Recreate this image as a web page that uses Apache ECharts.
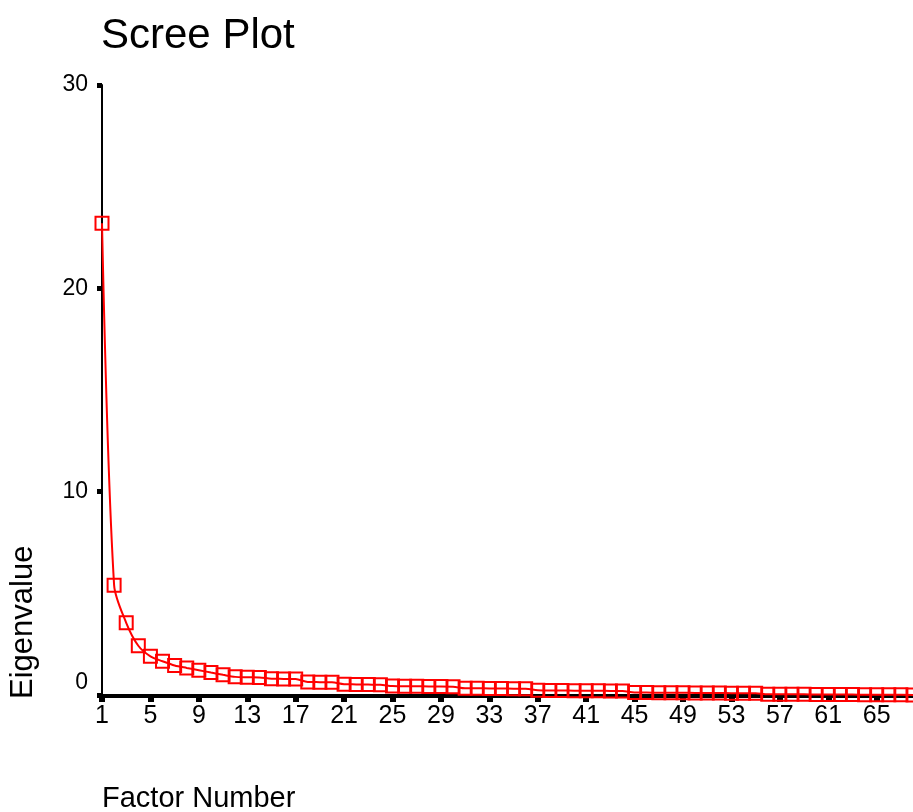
<!DOCTYPE html>
<html>
<head>
<meta charset="utf-8">
<style>
  html, body { margin: 0; padding: 0; background: #fff; }
  #scree { width: 913px; height: 812px; }
</style>
<script src="https://cdn.jsdelivr.net/npm/echarts@6/dist/echarts.min.js"></script>
</head>
<body>
<div id="scree"></div>
<script>
// eigenvalue per factor, factor number = position + 1
var eigenvalues = [
  23.2, 5.4, 3.55, 2.42, 1.9, 1.66, 1.45, 1.33, 1.22, 1.1,
  0.99, 0.89, 0.87, 0.86, 0.8, 0.79, 0.78, 0.64, 0.63, 0.62,
  0.53, 0.52, 0.51, 0.5, 0.44, 0.43, 0.43, 0.42, 0.42, 0.41,
  0.33, 0.33, 0.32, 0.32, 0.31, 0.31, 0.23, 0.22, 0.22, 0.21,
  0.21, 0.21, 0.2, 0.2, 0.12, 0.12, 0.11, 0.11, 0.11, 0.1,
  0.1, 0.1, 0.09, 0.09, 0.09, 0.03, 0.03, 0.03, 0.03, 0.02,
  0.02, 0.02, 0.02, 0.01, 0.01, 0.01, 0.01, 0.0
];
var xTicks = [1, 5, 9, 13, 17, 21, 25, 29, 33, 37, 41, 45, 49, 53, 57, 61, 65];
var yTicks = [0, 10, 20, 30];

var font = 'Liberation Sans, Arial, sans-serif';
var myChart = echarts.init(document.getElementById('scree'));

var points = eigenvalues.map(function(v, i) { return [i + 1, v]; });

var option = {
    animation: false,
    title: {
        text: 'Scree Plot',
        left: 96,
        top: 10,
        textStyle: {
            fontFamily: font,
            fontSize: 42,
            fontWeight: 'normal',
            color: '#000'
        }
    },
    grid: {
        left: 102,
        right: 0,
        top: 85,
        bottom: 115
    },
    xAxis: [{
        type: 'value',
        min: 1,
        max: 68,
        axisLine: {//线
            show: true,
            onZero: false,
            lineStyle: { color: '#000', width: 2 }
        },
        axisTick: {
            show: true,
            length: 5,
            customValues: xTicks,
            lineStyle: { color: '#000', width: 6 }
        },
        axisLabel: {//字
            show: true,
            customValues: xTicks,
            margin: 7,
            fontFamily: font,
            fontSize: 25,
            color: '#000'
        },
        splitLine: { show: false }
    }, {
        // top frame line
        type: 'value',
        position: 'top',
        min: 1,
        max: 68,
        axisLine: { show: true, lineStyle: { color: '#000', width: 2 } },
        axisTick: { show: false },
        axisLabel: { show: false },
        splitLine: { show: false }
    }],
    yAxis: {
        type: 'value',
        min: -0.1,
        max: 30,
        axisLine: {
            show: true,
            onZero: false,
            lineStyle: { color: '#000', width: 2 }
        },
        axisTick: {
            show: true,
            length: 5,
            customValues: yTicks,
            lineStyle: { color: '#000', width: 5 }
        },
        axisLabel: {
            show: true,
            customValues: yTicks,
            margin: 14,
            fontFamily: font,
            fontSize: 23,
            color: '#000',
            formatter: function(v) {
                return v === 0 ? '{z|0}' : String(v);
            },
            rich: {
                z: {
                    fontFamily: font,
                    fontSize: 23,
                    color: '#000',
                    padding: [0, 0, 24, 0]
                }
            }
        },
        splitLine: { show: false }
    },
    graphic: [{
        type: 'text',
        x: 102,
        y: 799,
        style: {
            text: 'Factor Number',
            font: '29px ' + font,
            fill: '#000',
            align: 'left',
            verticalAlign: 'middle',
            textAlign: 'left',
            textVerticalAlign: 'middle'
        }
    }, {
        type: 'text',
        x: 23,
        y: 699,
        rotation: Math.PI / 2,
        style: {
            text: 'Eigenvalue',
            font: '31px ' + font,
            fill: '#000',
            align: 'left',
            verticalAlign: 'middle',
            textAlign: 'left',
            textVerticalAlign: 'middle'
        }
    }],
    series: [{
        type: 'line',
        data: points,
        smooth: 0.3,
        symbol: 'rect',
        symbolSize: 13,
        clip: false,
        lineStyle: { color: '#ff0000', width: 2 },
        itemStyle: {
            color: 'rgba(0,0,0,0)',
            borderColor: '#ff0000',
            borderWidth: 2
        }
    }]
};

myChart.setOption(option);
</script>
</body>
</html>
